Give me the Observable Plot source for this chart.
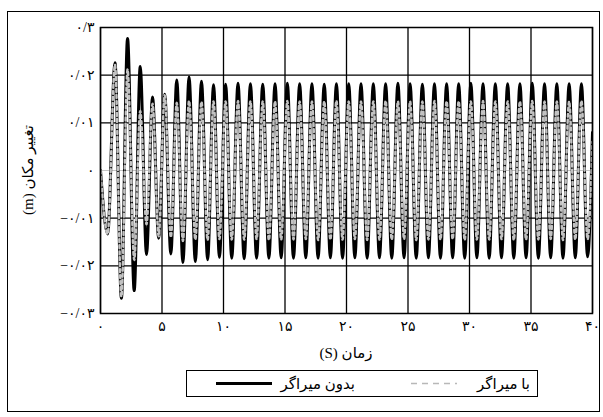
<!DOCTYPE html>
<html>
<head>
<meta charset="utf-8">
<script src="https://cdn.jsdelivr.net/npm/d3@7"></script>
<script src="https://cdn.jsdelivr.net/npm/@observablehq/plot@0.6"></script>
<style>
  html, body { margin: 0; padding: 0; background: #fff; }
  #fig { position: relative; width: 603px; height: 417px; overflow: hidden;
         font-family: "Liberation Serif", "DejaVu Sans", serif; color: #000; }
  #frame { position: absolute; left: 7px; top: 11px; width: 593px; height: 401px;
           border: 1.5px solid #000; box-sizing: border-box; pointer-events: none; }
  #chart { position: absolute; left: 0; top: 0; }
  .ttl { position: absolute; font-size: 15px; white-space: nowrap; line-height: 1; }
  #ytitle { left: 28px; top: 170px; transform: translate(-50%, -50%) rotate(-90deg); }
  #xtitle { left: 346px; top: 353px; transform: translate(-50%, -50%); }
  #legend { position: absolute; left: 186px; top: 370px; width: 352px; height: 27px;
            border: 1.5px solid #000; box-sizing: border-box; }
  #legend svg { position: absolute; left: 0; top: 0; }
  .lg { position: absolute; top: 50%; transform: translateY(-52%); font-size: 15px; white-space: nowrap; }
</style>
</head>
<body>
<div id="fig">
  <div id="chart"></div>
  <div id="ytitle" class="ttl" dir="rtl"></div>
  <div id="xtitle" class="ttl" dir="rtl"></div>
  <div id="legend"></div>
  <div id="frame"></div>
</div>
<script>
// Time of each turning point of the response (s), starting from rest
const time = [
  0,
  0.58, 1.18, 1.70, 2.20, 2.74, 3.23, 3.74, 4.23, 4.73, 5.22,
  5.72, 6.20, 6.70, 7.20, 7.71, 8.21, 8.71, 9.19, 9.67, 10.17,
  10.67, 11.18, 11.68, 12.19, 12.69, 13.19, 13.69, 14.19, 14.69, 15.19,
  15.69, 16.19, 16.69, 17.19, 17.69, 18.19, 18.69, 19.18, 19.68, 20.18,
  20.68, 21.18, 21.68, 22.18, 22.68, 23.18, 23.68, 24.18, 24.68, 25.17,
  25.67, 26.17, 26.66, 27.15, 27.64, 28.14, 28.63, 29.12, 29.61, 30.11,
  30.60, 31.10, 31.60, 32.10, 32.60, 33.10, 33.60, 34.10, 34.60, 35.10,
  35.60, 36.10, 36.60, 37.10, 37.60, 38.10, 38.60, 39.10, 39.60,
  40
];

// Displacement (m) without damper
const withoutDamper = [
  0,
  -0.0133, 0.0226, -0.0268, 0.0277, -0.0252, 0.0218, -0.0176, 0.0154, -0.0142, 0.0160,
  -0.0175, 0.0190, -0.0193, 0.0196, -0.0191, 0.0187, -0.0187, 0.0180, -0.0182, 0.0181,
  -0.0184, 0.0183, -0.0185, 0.0182, -0.0184, 0.0181, -0.0184, 0.0182, -0.0183, 0.0183,
  -0.0184, 0.0182, -0.0183, 0.0182, -0.0184, 0.0181, -0.0183, 0.0182, -0.0184, 0.0182,
  -0.0183, 0.0182, -0.0184, 0.0182, -0.0183, 0.0182, -0.0184, 0.0183, -0.0183, 0.0182,
  -0.0184, 0.0181, -0.0183, 0.0182, -0.0184, 0.0182, -0.0183, 0.0182, -0.0184, 0.0183,
  -0.0183, 0.0182, -0.0184, 0.0182, -0.0183, 0.0182, -0.0184, 0.0182, -0.0183, 0.0183,
  -0.0184, 0.0182, -0.0183, 0.0182, -0.0184, 0.0182, -0.0183, 0.0182, -0.0181,
  0.0080
];

// Displacement (m) with damper
const withDamper = [
  0,
  -0.0133, 0.0222, -0.0265, 0.0212, -0.0188, 0.0125, -0.0113, 0.0140, -0.0138, 0.0158,
  -0.0140, 0.0142, -0.0148, 0.0146, -0.0145, 0.0144, -0.0146, 0.0145, -0.0144, 0.0145,
  -0.0145, 0.0146, -0.0145, 0.0145, -0.0144, 0.0145, -0.0146, 0.0145, -0.0145, 0.0146,
  -0.0145, 0.0145, -0.0144, 0.0145, -0.0146, 0.0145, -0.0145, 0.0146, -0.0145, 0.0145,
  -0.0144, 0.0145, -0.0146, 0.0145, -0.0145, 0.0146, -0.0145, 0.0145, -0.0144, 0.0145,
  -0.0146, 0.0145, -0.0145, 0.0146, -0.0145, 0.0145, -0.0144, 0.0145, -0.0146, 0.0145,
  -0.0145, 0.0146, -0.0145, 0.0145, -0.0144, 0.0145, -0.0146, 0.0145, -0.0145, 0.0146,
  -0.0145, 0.0145, -0.0144, 0.0145, -0.0146, 0.0145, -0.0145, 0.0146, -0.0144,
  0.0060
];

const seriesNames = ["بدون میراگر", "با میراگر"];
const xTicks = [0, 5, 10, 15, 20, 25, 30, 35, 40];
const xTickLabels = ["۰", "۵", "۱۰", "۱۵", "۲۰", "۲۵", "۳۰", "۳۵", "۴۰"];
const yTicks = [-0.03, -0.02, -0.01, 0, 0.01, 0.02, 0.03];
const yTickLabels = ["−۰/۰۳", "−۰/۰۲", "−۰/۰۱", "۰", "۰/۰۱", "۰/۰۲", "۰/۳"];
const xTitle = "زمان (S)";
const yTitle = "تغییر مکان (m)";

const black = time.map((t, i) => ({t, v: withoutDamper[i]}));
const gray = time.map((t, i) => ({t, v: withDamper[i]}));

const lookup = (ticks, labels) => d => labels[ticks.findIndex(v => Math.abs(v - d) < 1e-9)];

const chart = Plot.plot({
  width: 603,
  height: 362,
  marginLeft: 100,
  marginRight: 11,
  marginTop: 27,
  marginBottom: 49,
  style: {fontFamily: "'Liberation Serif', 'DejaVu Sans', serif", fontSize: "14px", color: "#000", background: "transparent"},
  x: {domain: [0, 40]},
  y: {domain: [-0.03, 0.03]},
  marks: [
    Plot.ruleY([0], {stroke: "#c4c4c4", strokeWidth: 1}),
    Plot.gridX({ticks: xTicks, stroke: "#000", strokeOpacity: 1, strokeWidth: 1.3}),
    Plot.gridY({ticks: [-0.02, -0.01, 0.01, 0.02], stroke: "#000", strokeOpacity: 1, strokeWidth: 1.3}),
    Plot.line(black, {x: "t", y: "v", stroke: "#000", strokeWidth: 3, curve: "monotone-x", clip: true}),
    Plot.line(gray, {x: "t", y: "v", stroke: "#c2c2c2", strokeWidth: 2.4, strokeDasharray: "3,3", curve: "monotone-x", clip: true}),
    Plot.frame({stroke: "#000", strokeWidth: 1.5}),
    Plot.axisX({ticks: xTicks, tickFormat: lookup(xTicks, xTickLabels), tickSize: 0, tickPadding: 8, label: null, fontSize: 14}),
    Plot.axisY({ticks: yTicks, tickFormat: lookup(yTicks, yTickLabels), tickSize: 0, tickPadding: 6, label: null, fontSize: 14})
  ]
});
document.getElementById("chart").appendChild(chart);

document.getElementById("ytitle").textContent = yTitle;
document.getElementById("xtitle").textContent = xTitle;

// Legend: solid black for the undamped response, dashed gray for the damped one
const legend = d3.select("#legend");
const lsvg = legend.append("svg").attr("width", 352).attr("height", 27);
lsvg.append("line").attr("x1", 29).attr("x2", 85).attr("y1", 12.5).attr("y2", 12.5)
  .attr("stroke", "#000").attr("stroke-width", 3);
lsvg.append("line").attr("x1", 224).attr("x2", 270).attr("y1", 12.5).attr("y2", 12.5)
  .attr("stroke", "#b8b8b8").attr("stroke-width", 1.5).attr("stroke-dasharray", "6,5");
legend.append("div").attr("class", "lg").attr("dir", "rtl").style("right", (352 - 170) + "px").text(seriesNames[0]);
legend.append("div").attr("class", "lg").attr("dir", "rtl").style("right", (352 - 345) + "px").text(seriesNames[1]);
</script>
</body>
</html>
